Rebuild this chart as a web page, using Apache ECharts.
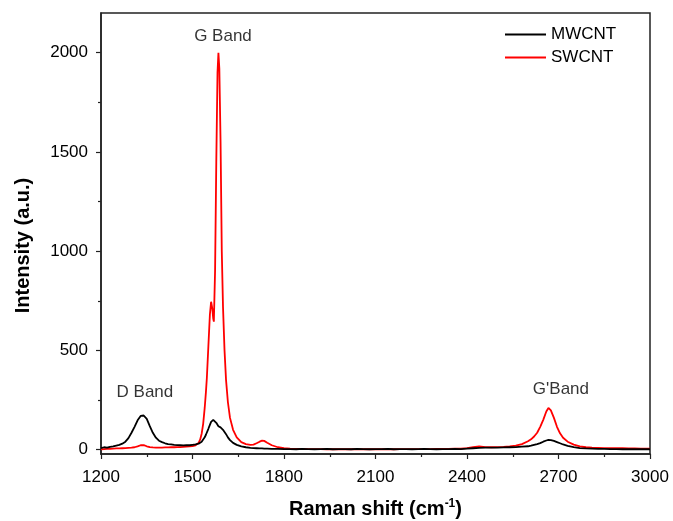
<!DOCTYPE html>
<html>
<head>
<meta charset="utf-8">
<script src="https://cdn.jsdelivr.net/npm/echarts@6/dist/echarts.min.js"></script>
<style>html,body{margin:0;padding:0;background:#fff}#c{width:673px;height:521px}</style>
</head>
<body>
<div id="c"></div>
<script>
var ramanShift = [1200,1210,1220,1230,1240,1250,1260,1270,1280,1290,
1300,1310,1320,1330,1335,1340,1350,1360,1370,1380,
1390,1400,1410,1420,1430,1440,1450,1460,1470,1480,
1490,1500,1510,1515,1520,1525,1530,1535,1540,1544,
1547,1552,1557,1561,1565,1568,1570,1574,1578,1582,
1585,1588,1592,1596,1600,1605,1610,1616,1623,1633,
1645,1660,1675,1690,1700,1710,1720,1728,1735,1745,
1760,1780,1800,
1820,1840,1860,1880,1900,1920,1940,1960,1980,2000,
2020,2040,2060,2080,2100,2120,2140,2160,2180,2200,
2220,2240,2260,2280,2300,2320,2340,2360,2380,
2400,2420,2440,2460,2480,2500,2520,2540,2560,2580,
2600,2610,2620,2630,2640,2650,2660,2667,2675,2685,
2695,2705,2715,2730,2750,2770,2790,2810,
2830,2850,2870,2890,2910,2930,2950,2970,2990,3000];

var mwcnt = [8,12,10,14,16,20,24,30,40,58,
85,115,148,170,175,172,155,118,85,60,
45,38,32,28,26,24,23,22,21,22,
22,24,26,28,30,34,40,50,62,75,
85,105,125,140,148,150,149,145,135,125,
118,115,112,106,100,90,78,62,48,34,
24,16,12,9,8,7,6,6,5,5,
4,4,3,
3,2,4,3,2,3,4,2,3,3,
2,4,3,2,3,3,4,2,3,3,
2,3,4,3,2,3,3,4,3,
5,7,9,10,10,10,11,12,13,15,
17,20,24,28,33,40,46,49,48,44,
38,32,26,19,13,8,6,5,
4,4,3,3,2,3,2,2,2,2];

var swcnt = [2,3,4,4,5,6,6,7,8,9,
10,12,16,22,24,23,17,13,11,10,
10,10,11,11,12,12,13,13,14,15,
16,18,22,26,34,50,80,130,210,290,
360,520,680,745,710,660,645,900,1450,1900,
2000,1920,1550,1000,720,500,350,240,160,100,
62,38,28,24,25,32,40,45,44,35,
22,12,7,
5,4,4,3,3,3,2,2,2,2,
2,2,2,2,2,2,2,2,3,3,
3,3,3,3,4,4,4,5,5,
8,12,16,13,12,13,14,16,20,28,
42,52,66,85,115,150,192,210,198,160,
115,82,60,40,25,16,12,10,
9,8,8,7,7,6,6,5,5,5];

var seriesNames = ['MWCNT', 'SWCNT'];
var yMajorTicks = [0, 500, 1000, 1500, 2000];
var yMinorTicks = [250, 750, 1250, 1750];
var annotationText = ['G Band', 'D Band', "G'Band"];
var annotationX = [1600, 1344, 2708];
var annotationY = [2084, 291, 306];

function pairs(xs, ys) { return xs.map(function (x, i) { return [x, ys[i]]; }); }
function plain(v) { return String(v); }

var FONT = '"Liberation Sans", Arial, sans-serif';
var chart = echarts.init(document.getElementById('c'));
chart.setOption({
  animation: false,
  backgroundColor: '#fff',
  grid: { left: 101, right: 23, top: 13, bottom: 67, containLabel: false, outerBoundsMode: 'none',
    show: true, borderColor: '#222', borderWidth: 1.5, backgroundColor: 'transparent' },
  legend: {
    orient: 'vertical', left: 500, top: 21, itemGap: 6,
    icon: 'rect', itemWidth: 41, itemHeight: 2,
    textStyle: { fontFamily: FONT, fontSize: 17, color: '#000' },
    data: seriesNames
  },
  xAxis: {
    type: 'value', min: 1200, max: 3000, interval: 300,
    axisLine: { show: true, onZero: false, lineStyle: { color: '#222', width: 1.5 } },
    axisTick: { show: true, length: 5, lineStyle: { color: '#222', width: 1.2 } },
    minorTick: { show: true, splitNumber: 2, length: 3, lineStyle: { color: '#222', width: 1.2 } },
    splitLine: { show: false },
    axisLabel: { fontFamily: FONT, fontSize: 17, color: '#000', margin: 15, formatter: plain },
    name: 'Raman shift (cm{sup|-1})', nameLocation: 'middle', nameGap: 44,
    nameTextStyle: { fontFamily: FONT, fontSize: 20, fontWeight: 'bold', color: '#000',
      rich: { sup: { fontFamily: FONT, fontSize: 12, fontWeight: 'bold', color: '#000', verticalAlign: 'top', padding: [0, 0, 10, 0] } } }
  },
  yAxis: [{
    type: 'value', min: -22, max: 2200,
    axisLine: { show: true, lineStyle: { color: '#222', width: 1.5 } },
    axisTick: { show: true, length: 5, customValues: yMajorTicks, lineStyle: { color: '#222', width: 1.2 } },
    splitLine: { show: false },
    axisLabel: { fontFamily: FONT, fontSize: 17, color: '#000', margin: 13, customValues: yMajorTicks, formatter: plain },
    name: 'Intensity (a.u.)', nameLocation: 'middle', nameGap: 68,
    nameTextStyle: { fontFamily: FONT, fontSize: 20, fontWeight: 'bold', color: '#000', padding: [0, 24, 0, 0] }
  }, {
    type: 'value', min: -22, max: 2200, position: 'left',
    axisLine: { show: false },
    axisTick: { show: true, length: 3, customValues: yMinorTicks, lineStyle: { color: '#222', width: 1.2 } },
    axisLabel: { show: false },
    splitLine: { show: false }
  }],
  series: [{
    name: seriesNames[0], type: 'line', data: pairs(ramanShift, mwcnt), showSymbol: false, symbol: 'none',
    lineStyle: { color: '#000', width: 1.8 }, itemStyle: { color: '#000' }, z: 3
  }, {
    name: seriesNames[1], type: 'line', data: pairs(ramanShift, swcnt), showSymbol: false, symbol: 'none',
    lineStyle: { color: '#ff0000', width: 1.8 }, itemStyle: { color: '#ff0000' }, z: 2
  }, {
    type: 'scatter', symbolSize: 0, silent: true,
    data: annotationText.map(function (t, i) { return { value: [annotationX[i], annotationY[i]], name: t }; }),
    label: { show: true, position: 'inside', formatter: '{b}', fontFamily: FONT, fontSize: 17, color: '#000', textBorderWidth: 0 },
    z: 5
  }]
});
</script>
</body>
</html>
